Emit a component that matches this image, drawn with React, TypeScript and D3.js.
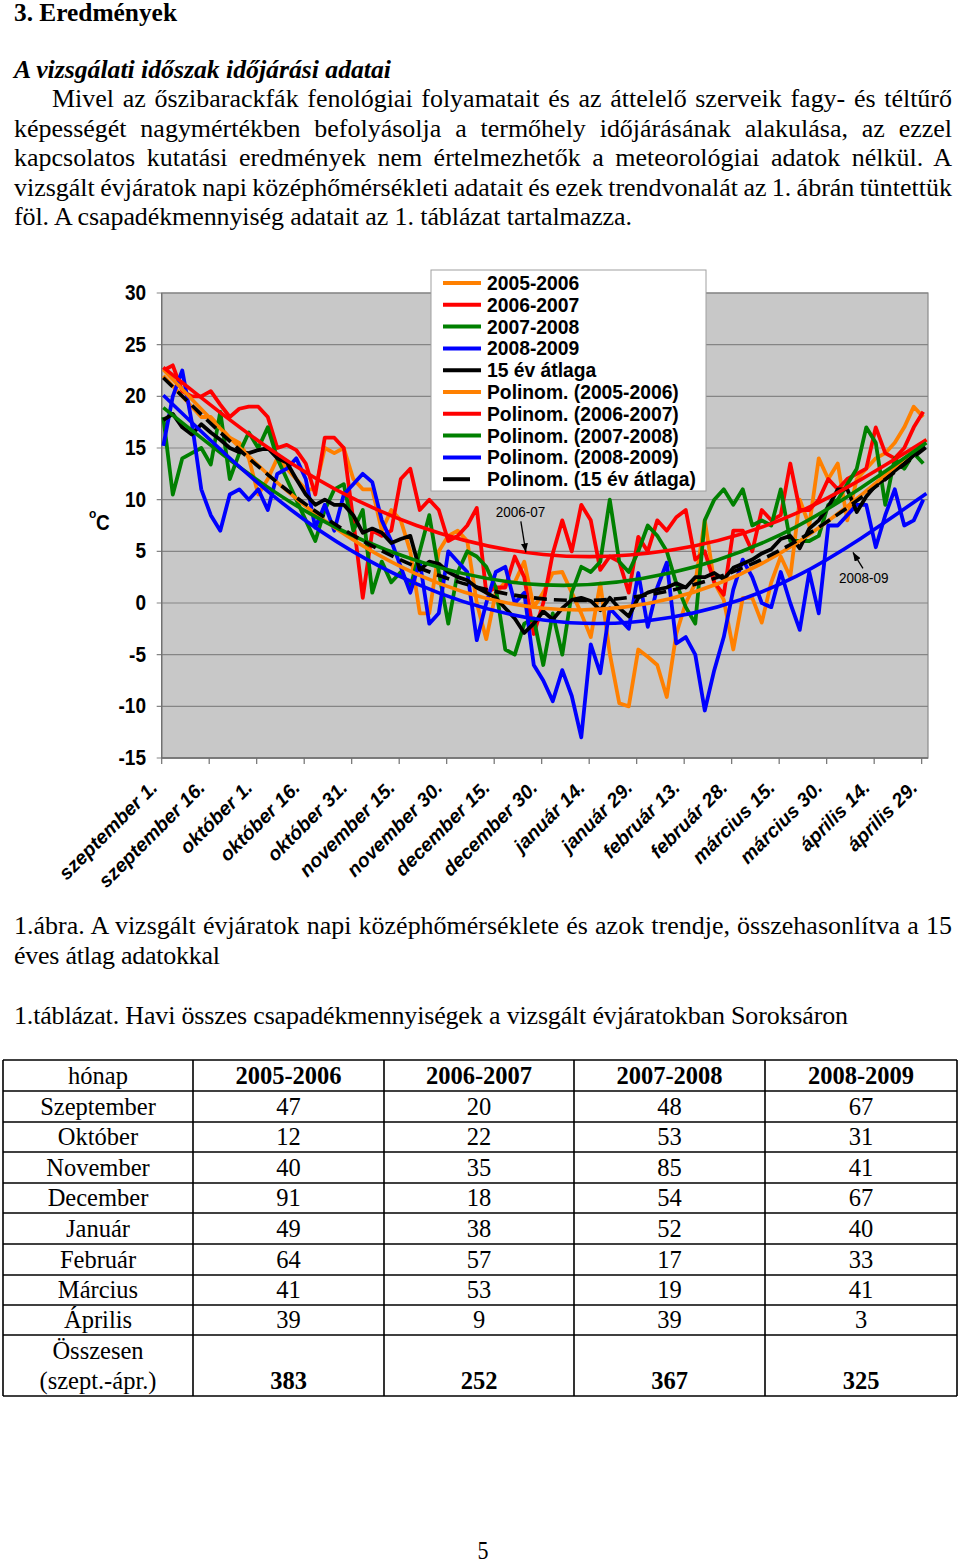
import React, { useEffect, useRef } from 'react';
import * as d3 from 'd3';

// ---------- DATA ----------
// sampled day index (0 = szeptember 1.)
const DAYS = [0, 3, 6, 9, 12, 15, 18, 21, 24, 27, 30, 33, 36, 39, 42, 45, 48, 51, 54, 57, 60, 63, 66, 69, 72, 75, 78, 81, 84, 87, 90, 93, 96, 99, 102, 105, 108, 111, 114, 117, 120, 123, 126, 129, 132, 135, 138, 141, 144, 147, 150, 153, 156, 159, 162, 165, 168, 171, 174, 177, 180, 183, 186, 189, 192, 195, 198, 201, 204, 207, 210, 213, 216, 219, 222, 225, 228, 231, 234, 237, 240];

const T_0506 = [22, 21, 20, 19, 18, 18, 17, 16, 15.5, 14,
  10.5, 12, 14, 13, 12, 11, 11, 15, 14.5, 15,
  12, 11, 11, 7, 9, 8, 5, -1, -1, 5,
  6.5, 7, 6, 0, -3.5, 1, 2, 2, 4, -0.4,
  1, 2.9, 3, 1, -1, -3.3, 1.9, -4.9, -9.7, -10,
  -4.5, -5.2, -6, -9.1, -3, 0, 1.9, 8, 2, 0.3,
  -4.5, 0.5, 0.5, -1.9, 2, 4.5, 2.5, 10, 7.5, 14,
  12, 13.5, 8, 12, 13, 14, 14.5, 15.5, 17, 19, 18];

const T_0607 = [22.5, 23, 20.5, 20, 20, 20.5, 19.2, 18, 18.8, 19,
  19, 18, 15, 15.3, 14.8, 13.5, 10.5, 16, 16, 15,
  8, 0.5, 7, 6.5, 7, 12, 13, 9, 10, 9,
  6, 6.5, 7.5, 9.2, 1, 1.5, 1.5, 4.5, 2.5, -3,
  0, 4.8, 8, 5, 9.5, 8, 3.2, 4.5, 4, 1,
  6.4, 5, 8, 7, 8.3, 9, 4.2, 5, 2, 0.8,
  7, 7, 5, 9, 8, 8.5, 13.5, 9, 9, 10,
  12, 11, 12, 12.5, 13, 17, 14.5, 14, 15, 17, 18.5];

const T_0708 = [18, 10.5, 14, 14.5, 15, 13.4, 18.5, 12, 14.5, 16.5,
  15, 17, 14, 12, 10, 8, 6, 9, 11, 11.5,
  7, 9, 1, 4, 2, 3, 1.5, 5, 8.5, 3,
  -2, 3, 5, 4.5, 3.5, 1.5, -4.5, -5, -2, -1.5,
  -6, -1, -5, 1, 3.5, 3, 4, 10, 4, 3,
  5, 7.5, 6.5, 5, 1.9, -0.4, -2, 8, 10, 11,
  9.5, 11, 7.5, 8, 7.5, 11, 6, 6, 6, 6.5,
  9.5, 10, 11.5, 13, 17, 15.5, 9.5, 14, 13, 14.5, 13.5];

const T_0809 = [15.2, 20, 22.5, 17.5, 11, 8.5, 7, 10.5, 11, 10,
  11, 9, 12.5, 13, 14, 12, 7.3, 9.5, 7, 10.5,
  11.5, 12.5, 11.7, 8, 6, 3.5, 1, 4, -2, -1,
  5, 4, 3, -3.6, 0, 3, 3.5, 0, 1, -6,
  -7.5, -9.5, -6.5, -9, -13, -4, -6.8, -0.5, -1.5, -2.5,
  2.9, -2.3, 1.5, 3.9, -3.9, -3.3, -5, -10.4, -6.5, -3.3,
  1.3, 4.2, 2.5, 0, -0.4, 3, 0, -2.6, 3, -1,
  7.5, 7.5, 8.5, 9.5, 9.5, 5.4, 8.5, 11, 7.5, 8, 10];

const T_15AVG = [17.7, 18.3, 17, 16.3, 17.3, 16.5, 15.8, 15, 14.6, 14.5,
  14.8, 15, 14, 13.6, 12, 10.5, 9.5, 10, 9.5, 9.5,
  8.5, 6.8, 7.2, 6.8, 5.8, 6.2, 6.5, 3.2, 4, 3.8,
  3, 2.5, 2.2, 1.5, 1, 0.5, -0.5, -1.5, -2.9, -2,
  -0.8, -1.6, -0.5, 0.3, 0.5, 0.2, -0.7, 0.5, -0.5, -1.3,
  0.5, 1, 1.3, 1.5, 1.9, 1.5, 2.5, 2.5, 2.9, 2.3,
  3.4, 3.8, 4.2, 4.8, 5.2, 6.2, 6.5, 5.3, 7.2, 8,
  9.3, 11, 11, 8.8, 10.3, 11.4, 12, 12.8, 13.5, 14.3, 15.3];

// polynomial trend lines, values read at these days
const TREND_DAYS = [0, 40, 80, 120, 160, 200, 241];
const P_0506 = [22.6, 10.6, 2.8, -0.5, 0.4, 5.8, 15.8];
const P_0607 = [22.8, 13.6, 7.5, 4.7, 5.1, 8.7, 15.8];
const P_0708 = [18.9, 9.8, 4.1, 1.75, 2.9, 7.4, 15.5];
const P_0809 = [20.1, 9.1, 1.85, -1.65, -1.4, 2.6, 10.6];
const P_15AVG = [21.8, 10.7, 3.5, 0.4, 1.2, 6.0, 15.1];

const Y_TICKS = [30, 25, 20, 15, 10, 5, 0, -5, -10, -15];
const X_TICK_DAYS = [0, 15, 30, 45, 60, 75, 90, 105, 120, 135, 150, 165, 180, 195, 210, 225, 240];
const X_LABELS = ['szeptember 1.', 'szeptember 16.', 'október 1.', 'október 16.', 'október 31.', 'november 15.', 'november 30.', 'december 15.', 'december 30.', 'január 14.', 'január 29.', 'február 13.', 'február 28.', 'március 15.', 'március 30.', 'április 14.', 'április 29.'];

const SERIES_NAMES = ['2005-2006', '2006-2007', '2007-2008', '2008-2009', '15 év átlaga'];
const COLORS = ['#FF8000', '#FF0000', '#008000', '#0000FF', '#000000'];

// precipitation table
const SEASONS = ['2005-2006', '2006-2007', '2007-2008', '2008-2009'];
const MONTHS = ['Szeptember', 'Október', 'November', 'December', 'Január', 'Február', 'Március', 'Április'];
const RAIN_0506 = [47, 12, 40, 91, 49, 64, 41, 39];
const RAIN_0607 = [20, 22, 35, 18, 38, 57, 53, 9];
const RAIN_0708 = [48, 53, 85, 54, 52, 17, 19, 39];
const RAIN_0809 = [67, 31, 41, 67, 40, 33, 41, 3];
const RAIN_TOTAL = [383, 252, 367, 325];

// ---------- LAYOUT ----------
const SERIF = '"Liberation Serif", "Times New Roman", serif';
const SANS = '"Liberation Sans", Arial, sans-serif';
const SY = 1.12;
const BODY_FS = 23;
const BODY_SX = 1.13;
const TABLE_FS = 24.5;

const x = d3.scaleLinear().domain([0, 242]).range([161.7, 928]);
const y = d3.scaleLinear().domain([-15, 30]).range([758, 293]);

function Txt(props: any) {
  const { x: tx, y: ty, sx = 1, sy = SY, children, tref, ...rest } = props;
  return (
    <text ref={tref} transform={`translate(${tx},${ty}) scale(${sx},${sy})`} {...rest}>
      {children}
    </text>
  );
}

// page prose lines (justified ones get word-spacing to reach width w)
const PROSE_LINES = [
  { t: 'Mivel az őszibarackfák fenológiai folyamatait és az áttelelő szerveik fagy- és téltűrő', x: 52, y: 107, w: 900, j: true },
  { t: 'képességét nagymértékben befolyásolja a termőhely időjárásának alakulása, az ezzel', x: 14, y: 137, w: 938, j: true },
  { t: 'kapcsolatos kutatási eredmények nem értelmezhetők a meteorológiai adatok nélkül. A', x: 14, y: 166, w: 938, j: true },
  { t: 'vizsgált évjáratok napi középhőmérsékleti adatait és ezek trendvonalát az 1. ábrán tüntettük', x: 14, y: 196, w: 938, j: true },
  { t: 'föl. A csapadékmennyiség adatait az 1. táblázat tartalmazza.', x: 14, y: 225, w: 618, j: false },
  { t: '1.ábra. A vizsgált évjáratok napi középhőmérséklete és azok trendje, összehasonlítva a 15', x: 14, y: 934, w: 938, j: true },
  { t: 'éves átlag adatokkal', x: 14, y: 964, w: 206, j: false },
  { t: '1.táblázat. Havi összes csapadékmennyiségek a vizsgált évjáratokban Soroksáron', x: 14, y: 1024, w: 834, j: false },
];

export default function App() {
  const proseRefs = useRef<(SVGTextElement | null)[]>([]);

  useEffect(() => {
    proseRefs.current.forEach((el, i) => {
      const spec = PROSE_LINES[i];
      if (!el) return;
      el.setAttribute('word-spacing', '0');
      el.removeAttribute('textLength');
      const natural = el.getComputedTextLength();
      const target = spec.w / BODY_SX;
      if (spec.j) {
        const spaces = (spec.t.match(/ /g) || []).length;
        if (spaces > 0) el.setAttribute('word-spacing', String((target - natural) / spaces));
      } else {
        el.setAttribute('textLength', String(target));
        el.setAttribute('lengthAdjust', 'spacing');
      }
    });
  }, []);

  const seriesData = [T_0506, T_0607, T_0708, T_0809, T_15AVG];
  const trendData = [P_0506, P_0607, P_0708, P_0809, P_15AVG];

  const line = d3
    .line<[number, number]>()
    .x((p) => x(p[0] + 0.5))
    .y((p) => y(p[1]))
    .curve(d3.curveLinear);
  const trendLine = d3
    .line<[number, number]>()
    .x((p) => x(p[0] + 0.5))
    .y((p) => y(p[1]))
    .curve(d3.curveNatural);

  const plotL = x(0), plotR = x(242), plotT = y(30), plotB = y(-15);

  const legendItems = [
    ...SERIES_NAMES.map((n, i) => ({ label: n, color: COLORS[i], dashed: false })),
    ...SERIES_NAMES.map((n, i) => ({ label: `Polinom. (${n})`, color: COLORS[i], dashed: i === 4 })),
  ];

  const annotations = [
    { label: '2006-07', day: 114.5, value: 4.9, tx: -30, ty: -35, ax: -5, ay: -31 },
    { label: '2008-09', day: 217.8, value: 4.9, tx: -14, ty: 31, ax: 10, ay: 16 },
  ];

  const rainCols = [RAIN_0506, RAIN_0607, RAIN_0708, RAIN_0809];
  const R = [1060, 1091, 1122, 1152, 1183, 1213, 1244, 1275, 1305, 1335, 1396];
  const C = [3, 193, 384, 574, 765, 957];
  const colMid = (i: number) => (C[i] + C[i + 1]) / 2;

  return (
    <svg width={960} height={1563} style={{ position: 'absolute', left: 0, top: 0, background: '#fff' }}>
      <defs>
        <marker id="arr" markerUnits="userSpaceOnUse" markerWidth={9} markerHeight={7} refX={9} refY={3.5} orient="auto">
          <path d="M0,0 L9,3.5 L0,7 z" fill="#000" />
        </marker>
      </defs>

      {/* ---------- Page text ---------- */}
      <Txt x={14} y={21} fontFamily={SERIF} fontWeight="bold" fontSize={22} textLength={163} lengthAdjust="spacingAndGlyphs">3. Eredmények</Txt>
      <Txt x={14} y={78} fontFamily={SERIF} fontWeight="bold" fontStyle="italic" fontSize={22} textLength={377} lengthAdjust="spacingAndGlyphs">A vizsgálati időszak időjárási adatai</Txt>
      {PROSE_LINES.map((l, i) => (
        <Txt
          key={i}
          tref={(el: SVGTextElement | null) => { proseRefs.current[i] = el; }}
          x={l.x}
          y={l.y}
          sx={BODY_SX}
          sy={1.05}
          fontFamily={SERIF}
          fontSize={BODY_FS}
        >
          {l.t}
        </Txt>
      ))}

      {/* ---------- Chart ---------- */}
      <rect x={plotL} y={plotT} width={plotR - plotL} height={plotB - plotT} fill="#C8C8C8" stroke="#8A8A8A" strokeWidth={1.2} />
      {Y_TICKS.map((v) => (
        <g key={v}>
          <line x1={plotL - 5} x2={plotR} y1={y(v)} y2={y(v)} stroke="#858585" strokeWidth={1.2} />
          <Txt x={146} y={y(v) + 7} textAnchor="end" fontFamily={SANS} fontWeight="bold" fontSize={19}>{v}</Txt>
        </g>
      ))}
      <line x1={plotL} x2={plotL} y1={plotT} y2={plotB} stroke="#707070" strokeWidth={1.3} />
      <line x1={plotL} x2={plotR} y1={plotB} y2={plotB} stroke="#707070" strokeWidth={1.3} />
      {X_TICK_DAYS.map((d) => (
        <line key={d} x1={x(d)} x2={x(d)} y1={plotB} y2={plotB + 6} stroke="#707070" strokeWidth={1.2} />
      ))}
      {X_TICK_DAYS.map((d, i) => (
        <text key={d} transform={`translate(${x(d) - 3},${plotB + 31}) rotate(-45)`} textAnchor="end" fontFamily={SANS} fontWeight="bold" fontStyle="italic" fontSize={19.5}>{X_LABELS[i]}</text>
      ))}
      <Txt x={89} y={518} fontFamily={SANS} fontWeight="bold" fontSize={12}>o</Txt>
      <Txt x={96} y={530} fontFamily={SANS} fontWeight="bold" fontSize={19}>C</Txt>

      {/* daily series */}
      {seriesData.map((vals, i) => (
        <path key={'s' + i} d={line(DAYS.map((d, j) => [d, vals[j]] as [number, number])) || ''} fill="none" stroke={COLORS[i]} strokeWidth={3.8} strokeLinejoin="round" />
      ))}
      {/* polynomial trends */}
      {trendData.map((vals, i) => (
        <path key={'p' + i} d={trendLine(TREND_DAYS.map((d, j) => [d, vals[j]] as [number, number])) || ''} fill="none" stroke={COLORS[i]} strokeWidth={3.6} strokeDasharray={i === 4 ? '13 7' : undefined} />
      ))}

      {/* annotations */}
      {annotations.map((a) => {
        const px = x(a.day + 0.5), py = y(a.value);
        return (
          <g key={a.label}>
            <Txt x={px + a.tx} y={py + a.ty} fontFamily={SANS} fontSize={13.5}>{a.label}</Txt>
            <line x1={px + a.ax} y1={py + a.ay} x2={px} y2={py} stroke="#000" strokeWidth={1.3} markerEnd="url(#arr)" />
          </g>
        );
      })}

      {/* legend */}
      <rect x={431} y={270} width={275} height={221} fill="#fff" stroke="#A0A0A0" strokeWidth={1} />
      {legendItems.map((it, i) => {
        const cy = 283 + i * 21.8;
        return (
          <g key={i}>
            <line x1={443} x2={it.dashed ? 470 : 481} y1={cy} y2={cy} stroke={it.color} strokeWidth={4} />
            <Txt x={487} y={cy + 7} sy={1.05} fontFamily={SANS} fontWeight="bold" fontSize={19.3}>{it.label}</Txt>
          </g>
        );
      })}

      {/* ---------- Table ---------- */}
      {R.map((ry, i) => (
        <line key={'r' + i} x1={C[0]} x2={C[C.length - 1]} y1={ry} y2={ry} stroke="#000" strokeWidth={1.6} />
      ))}
      {C.map((cx, i) => (
        <line key={'c' + i} x1={cx} x2={cx} y1={R[0]} y2={R[R.length - 1]} stroke="#000" strokeWidth={1.6} />
      ))}
      <Txt x={colMid(0)} y={1084} sy={1} textAnchor="middle" fontFamily={SERIF} fontSize={TABLE_FS}>hónap</Txt>
      {SEASONS.map((s, i) => (
        <Txt key={s} x={colMid(i + 1)} y={1084} sy={1} textAnchor="middle" fontFamily={SERIF} fontWeight="bold" fontSize={TABLE_FS}>{s}</Txt>
      ))}
      {MONTHS.map((m, r) => {
        const by = (R[r + 1] + R[r + 2]) / 2 + 8;
        return (
          <g key={m}>
            <Txt x={colMid(0)} y={by} sy={1} textAnchor="middle" fontFamily={SERIF} fontSize={TABLE_FS}>{m}</Txt>
            {rainCols.map((col, c) => (
              <Txt key={c} x={colMid(c + 1)} y={by} sy={1} textAnchor="middle" fontFamily={SERIF} fontSize={TABLE_FS}>{col[r]}</Txt>
            ))}
          </g>
        );
      })}
      <Txt x={colMid(0)} y={1359} sy={1} textAnchor="middle" fontFamily={SERIF} fontSize={TABLE_FS}>Összesen</Txt>
      <Txt x={colMid(0)} y={1389} sy={1} textAnchor="middle" fontFamily={SERIF} fontSize={TABLE_FS}>(szept.-ápr.)</Txt>
      {RAIN_TOTAL.map((v, c) => (
        <Txt key={c} x={colMid(c + 1)} y={1389} sy={1} textAnchor="middle" fontFamily={SERIF} fontWeight="bold" fontSize={TABLE_FS}>{v}</Txt>
      ))}

      <Txt x={483} y={1559} textAnchor="middle" fontFamily={SERIF} fontSize={22}>5</Txt>
    </svg>
  );
}
